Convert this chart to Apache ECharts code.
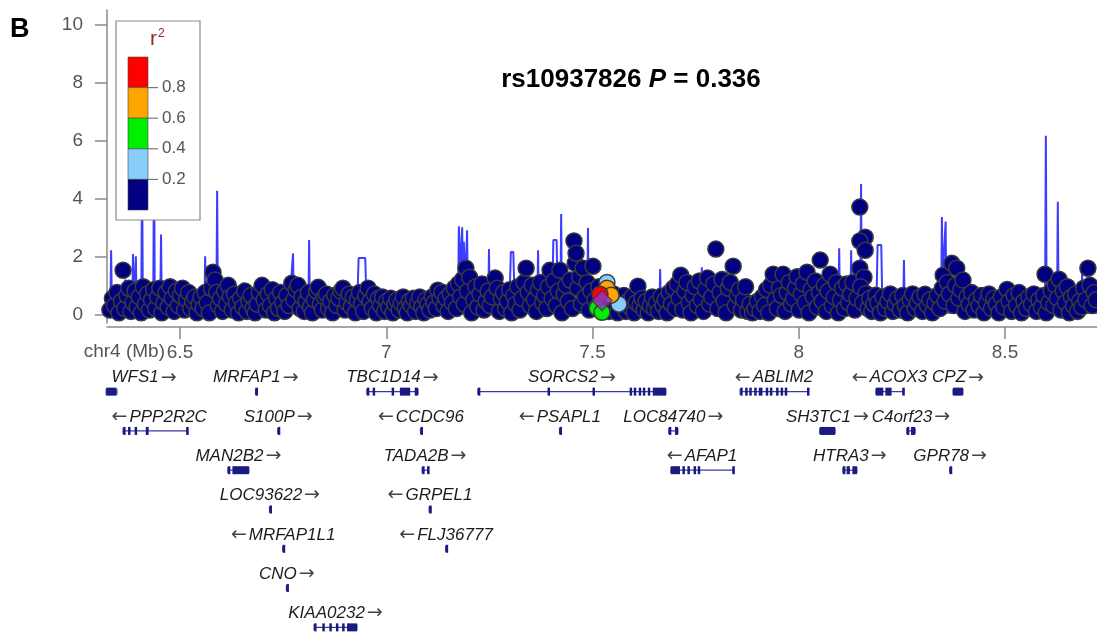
<!DOCTYPE html>
<html>
<head>
<meta charset="utf-8">
<title>rs10937826 regional plot</title>
<script src="https://cdn.jsdelivr.net/npm/echarts@6.0.0/dist/echarts.min.js"></script>
<style>
  html, body { margin: 0; padding: 0; background: #fff; }
  #chart { width: 1097px; height: 633px; }
</style>
</head>
<body>
<div id="chart"></div>
<script>
// axes
const xMin = 6.323, xMax = 8.723;
const xTicks = [6.5, 7, 7.5, 8, 8.5];
const xTickLabels = ['6.5', '7', '7.5', '8', '8.5'];
const yTicks = [0, 2, 4, 6, 8, 10];
const yTickLabels = ['0', '2', '4', '6', '8', '10'];

// r2 legend (top bin first)
const ldBreaks = ['0.8', '0.6', '0.4', '0.2'];
const ldColors = ['#ff0000', '#ffa500', '#00ee00', '#87cefa', '#000080'];

// SNPs: [position Mb, -log10 P]
const snpsNavy = [
  [6.330,0.15],[6.336,0.55],[6.341,0.3],[6.347,0.75],[6.352,0.05],[6.358,0.45],[6.362,1.52],[6.366,0.2],
  [6.371,0.65],[6.376,0.9],[6.381,0.1],[6.386,0.4],[6.391,0.8],[6.396,0.25],[6.401,0.6],[6.406,0.05],
  [6.411,0.95],[6.416,0.35],[6.421,0.7],[6.426,0.15],[6.431,0.5],[6.436,0.85],[6.441,0.2],[6.446,0.6],
  [6.451,0.9],[6.456,0.05],[6.461,0.4],[6.466,0.75],[6.471,0.25],[6.476,0.95],[6.481,0.55],[6.486,0.1],
  [6.491,0.8],[6.496,0.3],[6.501,0.65],[6.506,0.9],[6.511,0.15],[6.516,0.5],[6.521,0.75],[6.526,0.2],
  [6.531,0.45],[6.536,0.6],[6.541,0.05],[6.546,0.35],
  [6.551,0.6],[6.556,0.2],[6.561,0.75],[6.566,0.4],[6.571,0.05],[6.576,0.9],[6.580,1.45],[6.585,1.18],
  [6.589,0.76],[6.593,0.3],[6.598,0.55],[6.603,0.1],[6.608,0.8],[6.613,0.35],[6.617,1.0],[6.622,0.6],
  [6.627,0.15],[6.632,0.7],[6.637,0.4],[6.642,0.05],[6.647,0.55],[6.652,0.25],[6.657,0.8],[6.662,0.1],
  [6.667,0.45],[6.672,0.65],[6.677,0.2],[6.682,0.05],[6.687,0.35],[6.692,0.75],[6.699,1.0],[6.704,0.5],
  [6.709,0.15],[6.714,0.7],[6.719,0.3],[6.724,0.85],[6.729,0.05],[6.734,0.55],[6.739,0.2],[6.744,0.75],
  [6.749,0.4],[6.754,0.1],[6.759,0.65],[6.764,0.3],[6.771,1.07],[6.776,0.5],[6.781,0.85],[6.786,1.0],
  [6.791,0.2],[6.796,0.6],[6.801,0.1],[6.806,0.45],[6.811,0.75],[6.816,0.25],[6.821,0.05],[6.826,0.5],
  [6.831,0.8],[6.835,0.93],[6.840,0.35],[6.845,0.15],[6.850,0.6],[6.855,0.7],[6.860,0.2],[6.865,0.45],
  [6.870,0.05],[6.875,0.65],[6.880,0.3],[6.885,0.55],[6.890,0.8],[6.895,0.9],[6.900,0.15],[6.905,0.4],
  [6.910,0.7],[6.915,0.25],[6.920,0.6],[6.925,0.05],[6.930,0.5],[6.935,0.75],[6.940,0.35],[6.945,0.1],
  [6.950,0.65],[6.956,0.9],[6.961,0.45],[6.966,0.2],[6.971,0.7],[6.976,0.05],[6.981,0.55],
  [6.986,0.3],[6.991,0.6],[6.996,0.1],[7.001,0.45],[7.006,0.25],[7.011,0.55],[7.016,0.05],[7.021,0.35],
  [7.026,0.5],[7.031,0.15],[7.036,0.4],[7.041,0.6],[7.046,0.2],[7.051,0.05],[7.056,0.45],[7.061,0.3],
  [7.066,0.55],[7.071,0.1],[7.076,0.4],[7.081,0.6],[7.086,0.25],[7.091,0.05],[7.096,0.5],[7.101,0.35],
  [7.106,0.15],[7.111,0.6],[7.116,0.4],[7.121,0.2],[7.125,0.83],[7.130,0.55],
  [7.135,0.76],[7.140,0.3],[7.145,0.55],[7.150,0.1],[7.155,0.7],[7.160,0.4],[7.165,0.9],[7.170,0.2],
  [7.175,1.05],[7.180,0.6],[7.185,1.2],[7.189,0.35],[7.193,1.59],[7.197,0.8],[7.202,1.28],[7.207,0.05],
  [7.212,0.5],[7.217,0.95],[7.222,0.25],[7.227,0.7],[7.232,1.05],[7.237,0.15],[7.242,0.45],[7.247,0.8],
  [7.252,0.3],[7.257,0.6],[7.264,1.25],[7.269,0.9],[7.274,0.1],[7.279,0.55],[7.284,0.75],[7.289,0.2],
  [7.294,0.45],[7.299,0.85],[7.304,0.05],[7.309,0.65],[7.314,0.35],[7.319,0.95],[7.324,0.15],[7.329,0.55],
  [7.334,1.1],[7.339,1.59],[7.344,0.75],[7.349,0.3],[7.354,1.0],[7.359,0.5],[7.364,0.1],[7.369,0.85],
  [7.374,1.1],[7.379,0.4],[7.384,0.65],[7.389,0.2],[7.393,0.95],[7.397,1.52],[7.402,0.55],[7.407,1.15],
  [7.412,0.3],[7.417,0.8],[7.421,1.52],[7.426,0.05],[7.431,0.7],[7.436,1.0],[7.441,0.45],[7.446,1.18],
  [7.451,0.2],[7.455,2.53],[7.458,1.76],[7.460,2.11],[7.464,0.9],[7.469,1.3],[7.473,0.35],[7.477,1.59],
  [7.482,0.6],[7.487,1.1],[7.492,0.15],[7.496,0.8],[7.501,1.66],[7.506,0.5],[7.511,0.25],[7.515,0.95],
  [7.530,0.3],[7.535,0.6],[7.540,0.1],[7.546,0.45],[7.551,0.7],[7.556,0.2],[7.561,0.05],[7.566,0.5],
  [7.571,0.35],[7.576,0.65],[7.581,0.1],[7.586,0.45],[7.591,0.25],[7.596,0.6],[7.601,0.05],[7.606,0.4],
  [7.610,0.97],[7.615,0.3],[7.620,0.55],[7.625,0.15],[7.630,0.45],[7.635,0.05],[7.640,0.3],[7.645,0.6],
  [7.650,0.2],[7.655,0.4],[7.660,0.1],[7.666,0.62],[7.671,0.3],[7.676,0.5],[7.681,0.05],[7.686,0.75],
  [7.691,0.35],[7.696,0.9],[7.701,0.2],[7.706,1.05],[7.710,0.55],[7.714,1.35],[7.719,0.15],[7.724,0.8],
  [7.729,1.1],[7.734,0.4],[7.739,0.05],[7.744,0.65],[7.749,0.95],[7.754,0.3],[7.759,1.15],[7.764,0.5],
  [7.769,0.1],[7.774,0.85],[7.779,1.25],[7.784,0.35],[7.789,0.6],[7.794,1.05],[7.799,2.25],[7.804,0.2],
  [7.809,0.75],[7.814,1.2],[7.819,0.45],[7.824,0.05],[7.829,0.9],[7.834,1.1],[7.841,1.66],[7.846,0.3],
  [7.851,0.65],[7.856,0.85],[7.861,0.15],[7.866,0.5],[7.871,0.95],
  [7.876,0.1],[7.882,0.35],[7.888,0.05],[7.894,0.2],[7.900,0.45],[7.906,0.1],
  [7.912,0.6],[7.917,0.3],[7.922,0.85],[7.927,0.05],[7.932,1.0],[7.938,1.38],[7.943,0.5],[7.948,0.2],
  [7.953,0.9],[7.958,0.65],[7.962,1.38],[7.967,0.1],[7.972,0.75],[7.977,1.1],[7.982,0.35],[7.987,0.55],
  [7.992,0.9],[7.996,1.3],[8.001,0.15],[8.006,0.7],[8.011,1.05],[8.016,0.4],[8.020,1.45],[8.025,0.05],
  [8.030,0.85],[8.035,0.6],[8.040,1.15],[8.045,0.25],[8.050,0.75],[8.052,1.87],[8.057,0.45],[8.062,1.0],
  [8.067,0.1],[8.071,0.8],[8.076,1.38],[8.081,0.3],[8.086,0.6],[8.091,1.1],[8.096,0.05],[8.101,0.5],
  [8.106,0.9],[8.111,0.2],[8.116,1.05],[8.121,0.4],[8.126,0.7],[8.131,1.1],[8.136,0.15],[8.141,0.55],
  [8.148,3.70],[8.161,2.66],[8.148,2.53],[8.161,2.21],[8.148,1.59],[8.158,1.28],[8.150,0.95],[8.163,0.72],
  [8.155,0.4],[8.168,0.2],[8.172,0.55],[8.177,0.1],[8.182,0.35],[8.187,0.66],
  [8.192,0.4],[8.198,0.05],[8.204,0.6],[8.210,0.2],[8.216,0.45],[8.222,0.7],[8.228,0.1],[8.234,0.35],
  [8.240,0.55],[8.246,0.15],[8.252,0.65],[8.258,0.3],[8.264,0.05],[8.270,0.5],[8.276,0.7],[8.282,0.2],
  [8.288,0.4],[8.294,0.6],[8.300,0.1],[8.306,0.69],[8.312,0.3],[8.318,0.5],[8.324,0.05],[8.330,0.4],
  [8.336,0.65],[8.342,0.2],[8.348,0.9],[8.350,1.35],[8.355,0.45],[8.360,1.1],[8.365,0.7],[8.371,1.76],
  [8.376,0.3],[8.380,1.0],[8.383,1.59],[8.388,0.55],[8.393,0.85],[8.398,1.18],[8.403,0.1],[8.408,0.6],
  [8.413,0.35],[8.419,0.75],[8.425,0.15],[8.431,0.5],[8.437,0.3],[8.443,0.65],[8.449,0.05],[8.455,0.4],
  [8.461,0.7],[8.467,0.2],[8.473,0.55],[8.479,0.35],[8.485,0.05],[8.491,0.6],[8.497,0.25],[8.505,0.86],
  [8.510,0.45],[8.516,0.1],[8.522,0.65],[8.528,0.3],[8.534,0.75],[8.540,0.05],[8.546,0.45],[8.552,0.2],
  [8.558,0.6],[8.564,0.35],[8.570,0.7],[8.576,0.1],[8.582,0.5],[8.588,0.25],[8.594,0.65],[8.597,1.38],
  [8.600,0.05],[8.606,0.4],[8.612,0.8],[8.618,0.3],[8.622,1.0],[8.627,0.55],[8.631,1.21],[8.636,0.15],
  [8.641,0.8],[8.646,0.4],[8.651,0.95],[8.656,0.05],[8.661,0.6],[8.666,0.3],[8.671,0.7],[8.676,0.1],
  [8.681,0.45],[8.686,0.25],[8.691,0.9],[8.696,0.5],[8.701,1.59],[8.706,1.0],[8.711,0.3],[8.716,0.75],
  [8.721,0.5]
];
const snpsLightBlue = [[7.535, 1.1], [7.564, 0.35]];
const snpsGreen = [[7.511, 0.21], [7.523, 0.07]];
const snpsOrange = [[7.535, 0.9], [7.545, 0.66]];
const snpsRed = [[7.518, 0.69]];
const indexSnp = [[7.523, 0.474]];

// recombination rate, drawn on the left scale
const recombRate = [
  [6.323,0.05],
  [6.331,0.05],[6.333,2.21],[6.335,0.05],
  [6.365,0.05],[6.367,1.2],[6.369,0.05],
  [6.384,0.05],[6.386,2.08],[6.389,0.3],[6.393,2.0],[6.395,0.05],
  [6.406,0.05],[6.408,5.4],[6.410,0.05],
  [6.435,0.05],[6.437,5.9],[6.439,0.05],
  [6.452,0.05],[6.454,2.75],[6.456,0.05],
  [6.559,0.05],[6.561,2.0],[6.563,0.05],
  [6.588,0.05],[6.590,4.26],[6.592,0.05],
  [6.651,0.05],[6.653,1.1],[6.656,0.3],[6.660,0.95],[6.662,0.05],
  [6.760,0.05],[6.762,1.25],[6.765,0.3],[6.774,2.1],[6.776,0.05],
  [6.811,0.05],[6.813,2.56],[6.815,0.05],
  [6.838,0.05],[6.840,0.3],[6.870,0.3],[6.872,0.05],
  [6.929,0.05],[6.933,1.94],[6.949,1.94],[6.953,0.05],
  [7.174,0.05],[7.176,3.04],[7.180,1.5],[7.184,3.0],[7.186,1.2],[7.188,2.5],[7.191,1.0],[7.196,2.9],[7.198,0.05],
  [7.247,0.05],[7.249,2.25],[7.251,0.05],
  [7.298,0.05],[7.302,2.15],[7.308,2.15],[7.312,0.05],
  [7.366,0.05],[7.368,2.21],[7.370,0.05],
  [7.388,0.05],[7.390,1.8],[7.392,0.05],
  [7.402,0.05],[7.405,2.56],[7.413,2.56],[7.416,0.05],
  [7.422,0.05],[7.424,3.46],[7.426,0.05],
  [7.487,0.05],[7.489,2.98],[7.491,0.05],
  [7.579,0.05],[7.581,0.93],[7.583,0.05],
  [7.662,0.05],[7.664,1.56],[7.666,0.05],
  [7.739,0.05],[7.741,1.28],[7.743,0.05],
  [7.763,0.05],[7.765,1.62],[7.767,0.05],
  [8.096,0.05],[8.098,2.28],[8.100,0.05],
  [8.125,0.05],[8.127,2.21],[8.129,0.05],
  [8.149,0.05],[8.151,4.5],[8.153,0.05],
  [8.188,0.05],[8.191,2.39],[8.200,2.39],[8.203,0.05],
  [8.253,0.05],[8.255,1.87],[8.257,0.05],
  [8.345,0.05],[8.347,3.36],[8.349,1.2],[8.356,3.2],[8.358,0.05],
  [8.597,0.05],[8.599,6.16],[8.601,0.05],
  [8.626,0.05],[8.628,3.88],[8.630,0.05],
  [8.685,0.05],[8.687,1.52],[8.689,0.05],
  [8.723,0.05]
];

// genes
const geneNames = ['WFS1', 'MRFAP1', 'TBC1D14', 'SORCS2', 'ABLIM2', 'ACOX3', 'CPZ',
  'PPP2R2C', 'S100P', 'CCDC96', 'PSAPL1', 'LOC84740', 'SH3TC1', 'C4orf23',
  'MAN2B2', 'TADA2B', 'AFAP1', 'HTRA3', 'GPR78',
  'LOC93622', 'GRPEL1', 'MRFAP1L1', 'FLJ36777', 'CNO', 'KIAA0232'];
const geneStart = [6.321, 6.683, 6.953, 7.222, 7.858, 8.187, 8.374,
  6.362, 6.737, 7.083, 7.420, 7.685, 8.051, 8.262,
  6.616, 7.087, 7.690, 8.107, 8.366,
  6.717, 7.104, 6.749, 7.144, 6.758, 6.825];
const geneEnd = [6.347, 6.685, 7.077, 7.678, 8.022, 8.253, 8.398,
  6.517, 6.739, 7.085, 7.422, 7.707, 8.088, 8.282,
  6.667, 7.101, 7.841, 8.141, 8.368,
  6.719, 7.108, 6.751, 7.146, 6.760, 6.929];
const geneRow = [0, 0, 0, 0, 0, 0, 0,
  1, 1, 1, 1, 1, 1, 1,
  2, 2, 2, 2, 2,
  3, 3, 4, 4, 5, 6];
const geneStrand = [1, 1, 1, 1, -1, -1, 1,
  -1, 1, -1, -1, 1, 1, 1,
  1, 1, -1, 1, 1,
  1, -1, -1, -1, 1, 1];
const geneExons = [
  [[6.321, 6.346]],
  [[6.683, 6.685]],
  [[6.953, 6.955], [6.967, 6.969], [7.013, 7.015], [7.033, 7.058], [7.069, 7.077]],
  [[7.222, 7.224], [7.391, 7.393], [7.500, 7.502], [7.590, 7.592], [7.600, 7.603], [7.612, 7.615],
   [7.622, 7.628], [7.634, 7.640], [7.646, 7.678]],
  [[7.858, 7.862], [7.870, 7.873], [7.880, 7.884], [7.892, 7.896], [7.903, 7.912], [7.920, 7.924],
   [7.930, 7.936], [7.945, 7.950], [7.956, 7.960], [7.966, 7.970], [8.020, 8.022]],
  [[8.187, 8.205], [8.210, 8.225], [8.251, 8.253]],
  [[8.374, 8.398]],
  [[6.362, 6.366], [6.374, 6.378], [6.390, 6.393], [6.417, 6.424], [6.515, 6.517]],
  [[6.737, 6.739]],
  [[7.083, 7.085]],
  [[7.420, 7.422]],
  [[7.685, 7.687], [7.700, 7.707]],
  [[8.051, 8.088]],
  [[8.262, 8.264], [8.272, 8.282]],
  [[6.616, 6.622], [6.627, 6.667]],
  [[7.087, 7.089], [7.099, 7.101]],
  [[7.690, 7.712], [7.718, 7.722], [7.730, 7.734], [7.745, 7.748], [7.755, 7.760], [7.839, 7.841]],
  [[8.107, 8.109], [8.116, 8.124], [8.130, 8.141]],
  [[8.366, 8.368]],
  [[6.717, 6.719]],
  [[7.104, 7.108]],
  [[6.749, 6.751]],
  [[7.144, 7.146]],
  [[6.758, 6.760]],
  [[6.825, 6.828], [6.845, 6.848], [6.862, 6.865], [6.878, 6.882], [6.893, 6.897], [6.905, 6.929]]
];

const geneData = geneNames.map((n, i) => [geneStart[i], geneEnd[i], geneRow[i], i]);

const gridLeft = 107;
const measureCtx = document.createElement('canvas').getContext('2d');

function geneTextWidth(i) {
  measureCtx.font = 'italic 17px "Liberation Sans"';
  const w = measureCtx.measureText(geneNames[i]).width;
  measureCtx.font = '19px "DejaVu Sans"';
  return w + measureCtx.measureText('\u2192').width + 3;
}

function renderGene(params, api) {
  const i = api.value(3);
  const s = api.coord([api.value(0), api.value(2) + 0.5]);
  const e = api.coord([api.value(1), api.value(2) + 0.5]);
  const ty = s[1];
  const by = ty + 14;
  const stroke = { stroke: '#3a3a9e', lineWidth: 1.2 };
  const kids = [
    { type: 'line', shape: { x1: s[0], y1: by, x2: e[0], y2: by }, style: stroke },
    { type: 'line', shape: { x1: s[0], y1: by - 3, x2: s[0], y2: by + 3 }, style: stroke },
    { type: 'line', shape: { x1: e[0], y1: by - 3, x2: e[0], y2: by + 3 }, style: stroke }
  ];
  geneExons[i].forEach(ex => {
    const a = api.coord([ex[0], 0])[0];
    const b = api.coord([ex[1], 0])[0];
    kids.push({
      type: 'rect',
      shape: { x: a, y: by - 4, width: Math.max(b - a, 2.5), height: 8 },
      style: { fill: '#1a1a80' }
    });
  });
  // label centred on the gene, kept inside the plot on the left
  const tw = geneTextWidth(i);
  let tx = (s[0] + e[0]) / 2;
  if (tx - tw / 2 < gridLeft + 4) tx = gridLeft + 4 + tw / 2;
  const richText = geneStrand[i] > 0
    ? '{n|' + geneNames[i] + '}{g|}{a|\u2192}'
    : '{a|\u2190}{g|}{n|' + geneNames[i] + '}';
  kids.push({
    type: 'text',
    x: tx,
    y: ty,
    style: {
      text: richText,
      align: 'center',
      verticalAlign: 'middle',
      rich: {
        n: { fontStyle: 'italic', fontSize: 17, fontFamily: '"Liberation Sans", Arial, sans-serif', fill: '#1c1c1c' },
        g: { width: 2 },
        a: { fontSize: 19, fontFamily: '"DejaVu Sans", sans-serif', fill: '#444' }
      }
    }
  });
  return { type: 'group', children: kids };
}

const chart = echarts.init(document.getElementById('chart'));

const circle = (data, color, z) => ({
  type: 'scatter',
  xAxisIndex: 0,
  yAxisIndex: 0,
  data: data,
  symbol: 'circle',
  symbolSize: 16,
  z: z,
  itemStyle: { color: color, borderColor: '#3a3a3a', borderWidth: 1.5, opacity: 1 },
  emphasis: { disabled: true }
});

const legendChildren = [
  { type: 'rect', z: 100, shape: { x: 116, y: 21, width: 84, height: 199 }, style: { fill: '#fff', stroke: '#8a8a8a', lineWidth: 1.2 } },
  { type: 'text', z: 101, x: 150, y: 50, style: { text: 'r', fill: '#8b2a2a', font: '21px "Liberation Sans", Arial', verticalAlign: 'bottom' } },
  { type: 'text', z: 101, x: 158, y: 40, style: { text: '2', fill: '#8b2a2a', font: '12px "Liberation Sans", Arial', verticalAlign: 'bottom' } }
];
ldColors.forEach((c, k) => {
  legendChildren.push({
    type: 'rect', z: 101,
    shape: { x: 128, y: 57 + k * 30.6, width: 20, height: 30.6 },
    style: { fill: c, stroke: '#444', lineWidth: 0.6 }
  });
});
ldBreaks.forEach((t, k) => {
  const y = 57 + (k + 1) * 30.6;
  legendChildren.push({ type: 'line', z: 101, shape: { x1: 148, y1: y, x2: 158, y2: y }, style: { stroke: '#777', lineWidth: 1.2 } });
  legendChildren.push({
    type: 'text', z: 101, x: 162, y: y,
    style: { text: t, fill: '#555', font: '17px "Liberation Sans", Arial', verticalAlign: 'middle' }
  });
});

const option = {
  animation: false,
  backgroundColor: '#fff',
  grid: [
    { left: gridLeft, right: 0, top: 10, bottom: 310 },
    { left: gridLeft, right: 0, top: 358, height: 280 }
  ],
  xAxis: [
    {
      type: 'value', gridIndex: 0, min: xMin, max: xMax, offset: 4,
      axisLine: { show: true, onZero: false, lineStyle: { color: '#8a8a8a', width: 1.5 } },
      axisTick: { show: true, length: 12, customValues: xTicks, lineStyle: { color: '#8a8a8a', width: 1.5 } },
      axisLabel: {
        customValues: xTicks, margin: 16, color: '#555', fontSize: 19,
        fontFamily: '"Liberation Sans", Arial, sans-serif',
        formatter: v => xTickLabels[xTicks.indexOf(v)] ?? ''
      },
      splitLine: { show: false }
    },
    { type: 'value', gridIndex: 1, min: xMin, max: xMax, show: false }
  ],
  yAxis: [
    {
      type: 'value', gridIndex: 0, min: -0.3, max: 10.5,
      axisLine: { show: true, lineStyle: { color: '#8a8a8a', width: 1.5 } },
      axisTick: { show: true, length: 12, customValues: yTicks, lineStyle: { color: '#8a8a8a', width: 1.5 } },
      axisLabel: {
        customValues: yTicks, margin: 24, color: '#555', fontSize: 19,
        fontFamily: '"Liberation Sans", Arial, sans-serif',
        formatter: v => yTickLabels[yTicks.indexOf(v)] ?? ''
      },
      splitLine: { show: false }
    },
    { type: 'value', gridIndex: 1, min: 0, max: 7, inverse: true, show: false }
  ],
  series: [
    {
      type: 'line', xAxisIndex: 0, yAxisIndex: 0, data: recombRate,
      showSymbol: false, smooth: false, z: 1,
      lineStyle: { color: '#3d3dff', width: 2 },
      emphasis: { disabled: true }
    },
    circle(snpsNavy, ldColors[4], 2),
    circle(snpsLightBlue, ldColors[3], 3),
    circle(snpsGreen, ldColors[2], 4),
    circle(snpsOrange, ldColors[1], 5),
    circle(snpsRed, ldColors[0], 6),
    {
      type: 'scatter', xAxisIndex: 0, yAxisIndex: 0, data: indexSnp,
      symbol: 'diamond', symbolSize: 20, z: 7,
      itemStyle: { color: '#9234c8', borderColor: '#3a3a3a', borderWidth: 1.2 },
      emphasis: { disabled: true }
    },
    {
      type: 'custom', xAxisIndex: 1, yAxisIndex: 1,
      data: geneData, renderItem: renderGene, z: 3, silent: true
    }
  ],
  graphic: [
    { type: 'group', z: 100, children: legendChildren },
    {
      type: 'text', left: 10, top: 16, z: 100,
      style: { text: 'B', fill: '#000', font: 'bold 27px "Liberation Sans", Arial' }
    },
    {
      type: 'text', x: 631, y: 80, z: 100,
      style: {
        text: '{b|rs10937826 }{i|P}{b| = 0.336}',
        align: 'center', verticalAlign: 'middle',
        rich: {
          b: { fontSize: 26, fontWeight: 'bold', fontFamily: '"Liberation Sans", Arial', fill: '#000' },
          i: { fontSize: 26, fontWeight: 'bold', fontStyle: 'italic', fontFamily: '"Liberation Sans", Arial', fill: '#000' }
        }
      }
    },
    {
      type: 'text', x: 165, y: 352, z: 100,
      style: { text: 'chr4 (Mb)', fill: '#555', font: '19px "Liberation Sans", Arial', align: 'right', verticalAlign: 'middle' }
    }
  ]
};

chart.setOption(option);
window.addEventListener('resize', function () {
  chart.resize();
});
</script>
</body>
</html>
